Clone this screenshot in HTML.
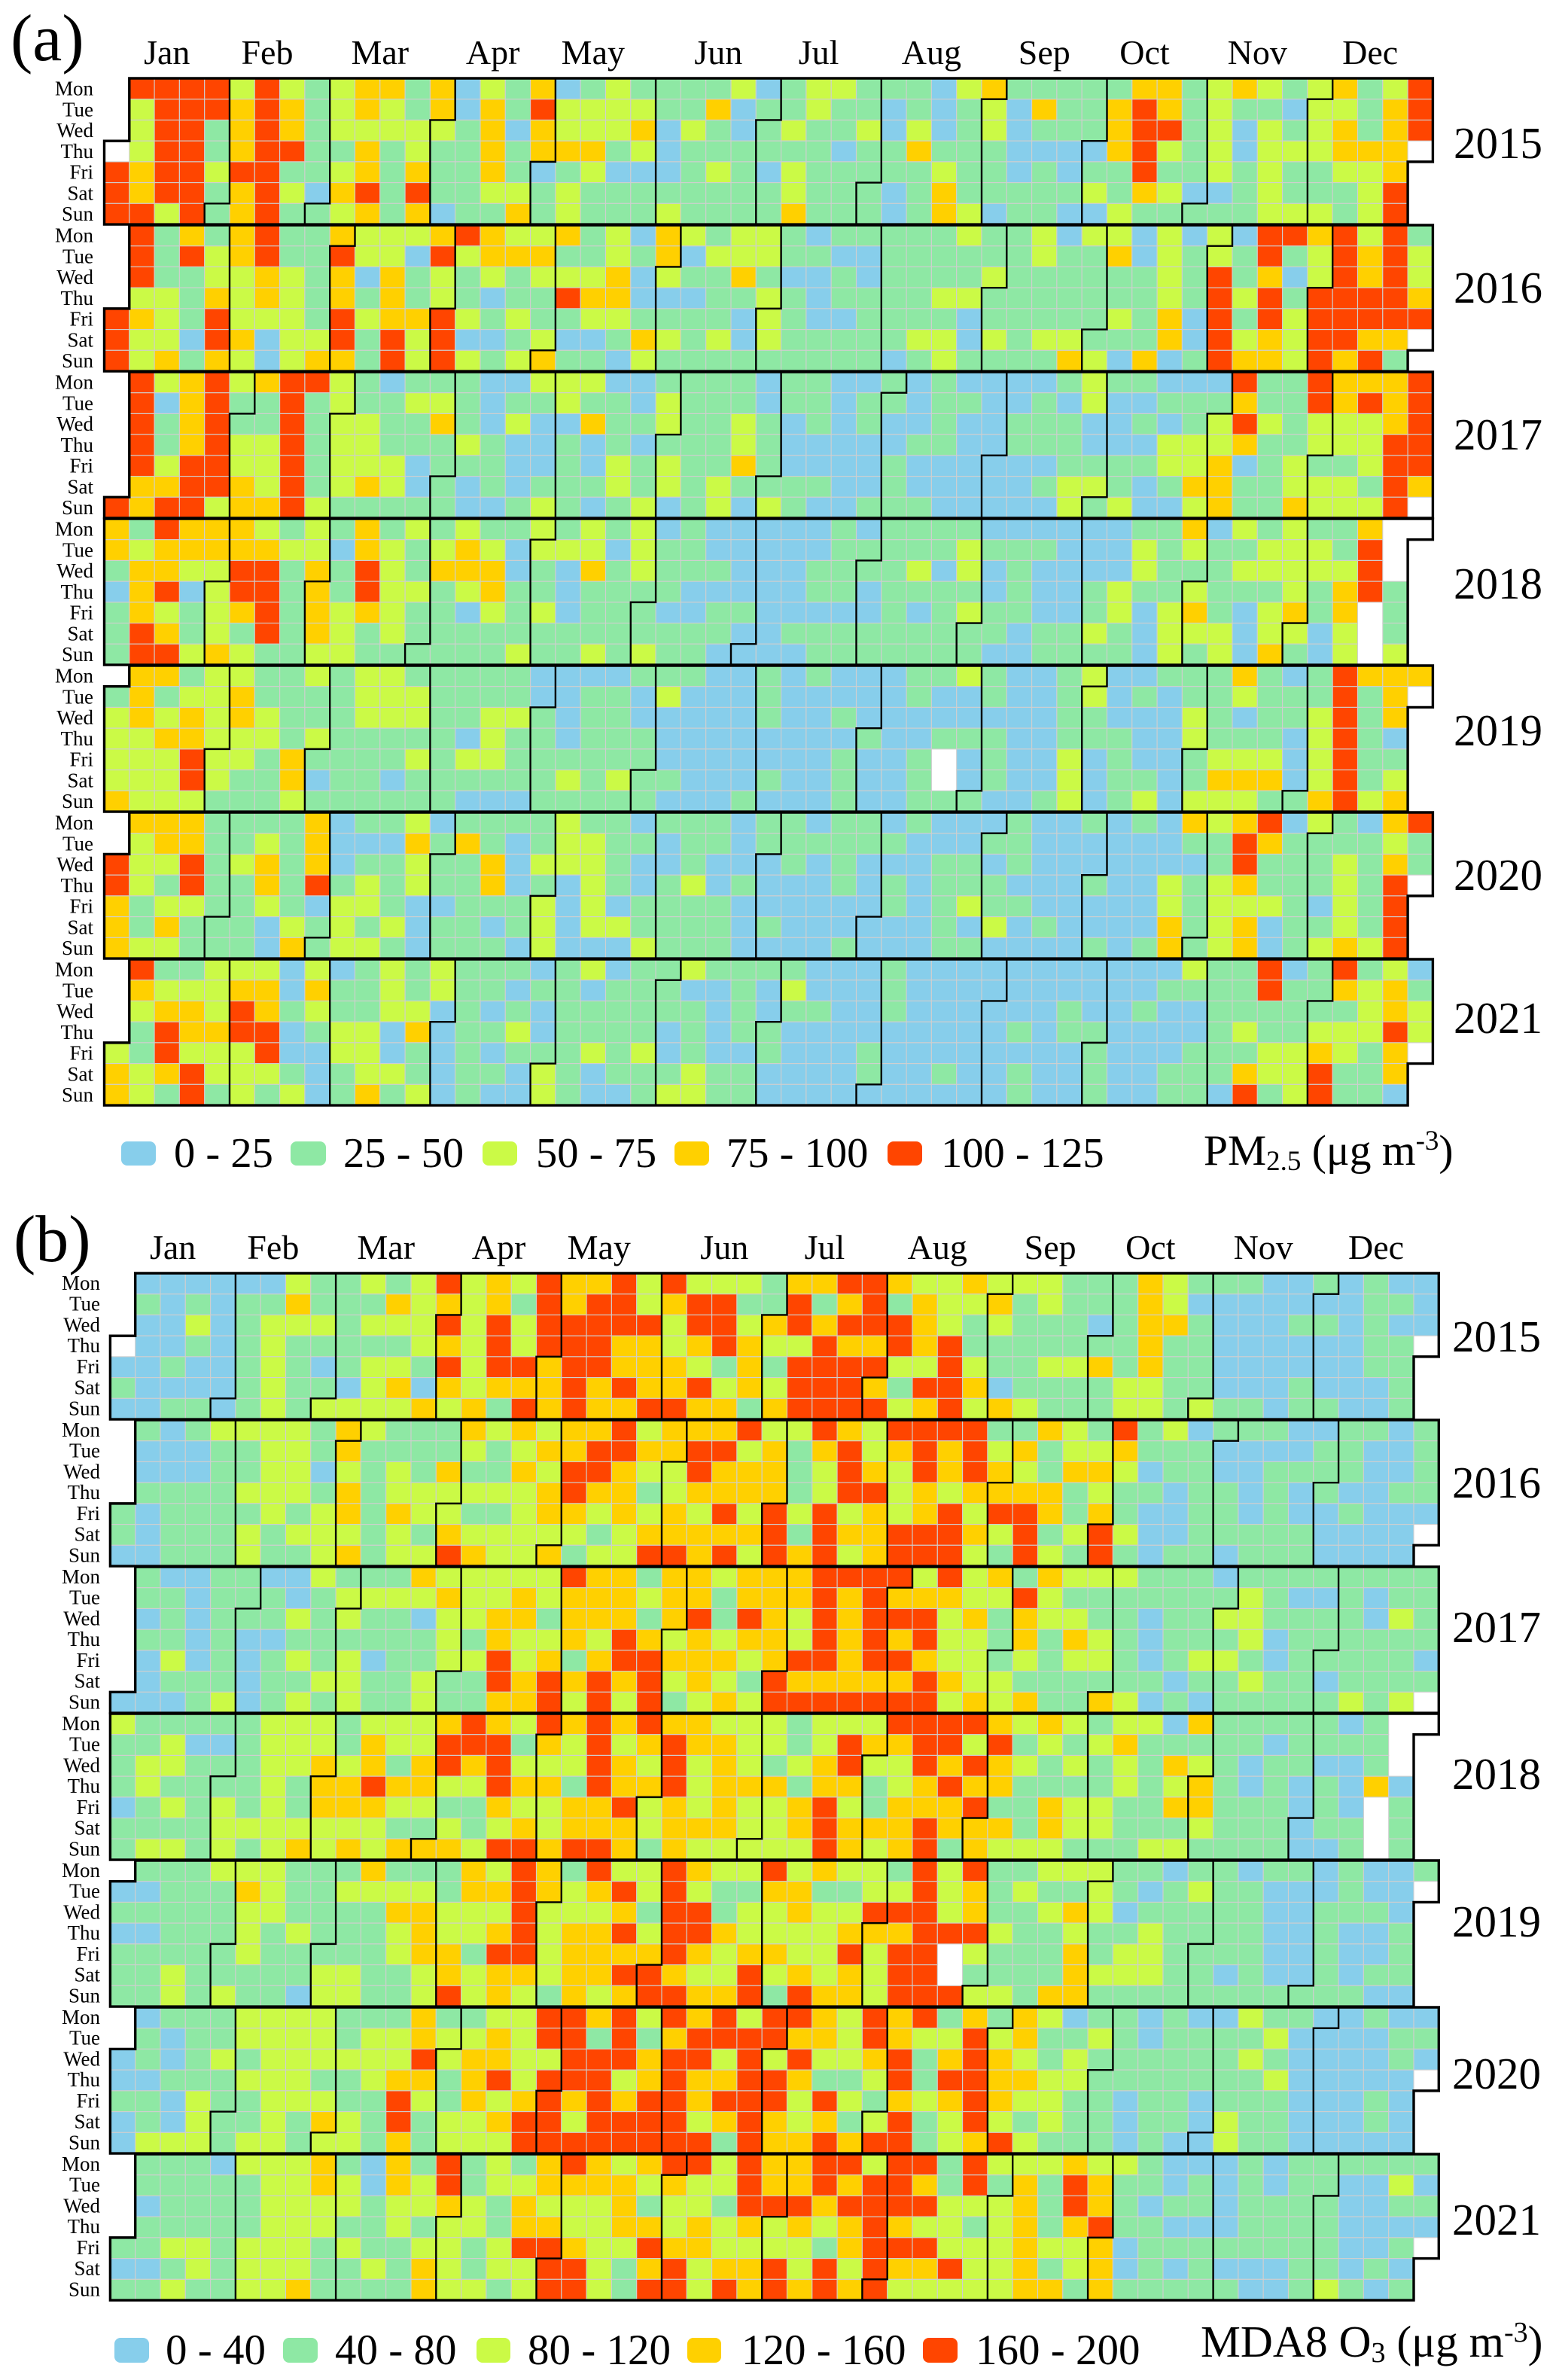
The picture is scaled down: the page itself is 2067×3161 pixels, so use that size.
<!DOCTYPE html>
<html lang="en">
<head>
<meta charset="utf-8">
<title>Calendar heatmaps of PM2.5 and MDA8 O3</title>
<style>
html,body{margin:0;padding:0;background:#fff;}
svg{display:block;position:absolute;left:0;top:0;}
text{font-family:"Liberation Serif",serif;fill:#000;}
</style>
</head>
<body>
<svg id="chart" xmlns="http://www.w3.org/2000/svg" width="2067" height="3161" viewBox="0 0 2067 3161">
<rect x="0" y="0" width="2067" height="3161" fill="#fff"/>
<g id="panel-a"></g>
<g id="panel-b"></g>

<text x="14" y="80" font-size="88">(a)</text>
<text x="18" y="1675" font-size="88">(b)</text>

<g font-size="59">
<text x="1931" y="210">2015</text>
<text x="1931" y="402">2016</text>
<text x="1931" y="597">2017</text>
<text x="1931" y="795">2018</text>
<text x="1931" y="990">2019</text>
<text x="1931" y="1182">2020</text>
<text x="1931" y="1372">2021</text>
</g>
<g font-size="59">
<text x="1929" y="1795">2015</text>
<text x="1929" y="1989">2016</text>
<text x="1929" y="2181">2017</text>
<text x="1929" y="2376">2018</text>
<text x="1929" y="2572">2019</text>
<text x="1929" y="2774">2020</text>
<text x="1929" y="2968">2021</text>
</g>

<g font-size="56.5">
<rect x="161" y="1516" width="46" height="32" rx="8" fill="#87CEEB"/>
<text x="231" y="1550">0 - 25</text>
<rect x="386" y="1516" width="47" height="32" rx="8" fill="#8EE8A4"/>
<text x="456" y="1550">25 - 50</text>
<rect x="641" y="1516" width="46" height="32" rx="8" fill="#CBFA46"/>
<text x="712" y="1550">50 - 75</text>
<rect x="896" y="1516" width="46" height="32" rx="8" fill="#FFD000"/>
<text x="965" y="1550">75 - 100</text>
<rect x="1179" y="1516" width="46" height="32" rx="8" fill="#FF4500"/>
<text x="1250" y="1550">100 - 125</text>
</g>
<text x="1599" y="1547" font-size="57.5">PM<tspan dy="7" font-size="37">2.5</tspan><tspan dy="-7"> (μg m</tspan><tspan dy="-20" font-size="37">-3</tspan><tspan dy="20">)</tspan></text>

<g font-size="57">
<rect x="152" y="3105" width="46" height="33" rx="8" fill="#87CEEB"/>
<text x="220" y="3140">0 - 40</text>
<rect x="376" y="3105" width="46" height="33" rx="8" fill="#8EE8A4"/>
<text x="445" y="3140">40 - 80</text>
<rect x="633" y="3105" width="45" height="33" rx="8" fill="#CBFA46"/>
<text x="701" y="3140">80 - 120</text>
<rect x="913" y="3105" width="45" height="33" rx="8" fill="#FFD000"/>
<text x="985" y="3140">120 - 160</text>
<rect x="1226" y="3105" width="46" height="33" rx="8" fill="#FF4500"/>
<text x="1296" y="3140">160 - 200</text>
</g>
<text x="1595" y="3130" font-size="59.5">MDA8 O<tspan dy="7" font-size="38">3</tspan><tspan dy="-7"> (μg m</tspan><tspan dy="-20" font-size="38">-3</tspan><tspan dy="20">)</tspan></text>
</svg>

<script>
const years = [2015,2016,2017,2018,2019,2020,2021];
const monthLabels = ["Jan","Feb","Mar","Apr","May","Jun","Jul","Aug","Sep","Oct","Nov","Dec"];
const monthLabelWeeks = [2.5,6.5,11,15.5,19.5,24.5,28.5,33,37.5,41.5,46,50.5];
const dayLabels = ["Mon","Tue","Wed","Thu","Fri","Sat","Sun"];
const binColors = ["#87CEEB","#8EE8A4","#CBFA46","#FFD000","#FF4500"];
/* Values: concentration bin index per weekday row and week column; 9 = no data */
const pm25_2015 = [
[9,4,4,4,4,2,4,2,1,2,3,3,1,3,0,2,1,3,0,1,2,1,1,1,1,2,0,1,2,2,1,1,1,0,2,3,1,1,1,1,1,3,3,1,2,3,2,1,2,3,1,2,4],
[9,2,4,4,4,3,4,3,1,2,3,2,1,3,0,3,1,4,2,2,2,2,1,1,3,0,1,1,2,1,1,0,1,0,1,2,0,3,1,1,3,4,3,1,2,1,1,0,2,2,1,3,4],
[9,2,4,4,1,3,4,3,1,2,2,2,2,2,1,3,0,3,2,2,2,3,0,2,1,0,1,2,1,1,2,0,2,0,1,2,0,1,1,1,3,4,4,1,2,0,2,1,2,3,1,3,4],
[9,2,4,4,1,3,4,4,1,1,3,1,2,1,1,3,1,3,3,3,1,2,0,1,1,1,1,1,1,0,1,1,3,1,1,1,0,0,0,0,3,4,2,1,2,0,2,2,2,3,3,3,9],
[4,3,4,4,2,4,4,1,1,2,3,1,3,1,1,3,1,0,1,2,0,0,0,1,2,1,0,2,1,1,1,1,1,2,1,1,0,1,0,1,1,4,1,1,2,1,2,1,1,2,2,3,9],
[4,3,4,4,1,3,4,2,0,3,4,1,4,1,1,2,2,1,2,1,1,1,1,1,1,1,1,2,1,1,1,0,1,3,1,1,1,1,1,2,1,3,2,0,0,1,2,1,1,1,2,4,9],
[4,4,2,4,1,3,4,1,1,2,3,1,3,0,1,1,3,1,2,1,1,1,2,1,1,1,1,3,1,1,1,0,1,3,2,0,1,1,0,0,2,1,1,1,1,1,2,2,2,1,2,4,9]];
const pm25_2016 = [
[9,4,1,3,1,3,4,1,1,3,2,2,2,3,4,3,2,2,3,1,2,0,3,2,1,2,2,1,0,1,1,1,1,1,2,1,1,2,0,2,2,0,2,0,2,0,4,4,3,4,2,4,1],
[9,4,1,4,2,3,4,1,1,4,2,2,0,4,2,3,3,3,1,1,2,1,3,0,2,2,2,1,1,0,0,1,1,1,1,1,1,2,1,1,3,0,2,1,2,1,4,1,2,4,3,4,2],
[9,4,1,1,2,2,3,2,1,3,0,3,1,2,1,2,1,2,2,2,3,0,2,1,1,3,1,0,0,1,0,1,1,1,1,2,1,1,1,1,1,1,2,1,4,1,3,0,2,4,3,4,2],
[9,2,2,1,3,2,3,2,1,3,1,3,1,2,1,0,1,1,4,3,3,0,0,0,1,1,2,1,0,1,1,1,1,2,2,1,1,1,1,1,1,1,2,1,4,2,4,1,4,4,4,4,3],
[4,3,2,1,4,2,2,2,1,4,2,3,3,4,2,1,2,1,1,2,2,1,1,1,1,0,2,1,0,0,1,1,1,1,0,1,1,1,1,1,2,1,3,0,4,1,4,2,4,4,4,4,4],
[4,2,2,0,4,3,0,2,2,4,1,4,2,4,0,0,1,2,0,0,1,3,2,1,2,0,2,1,1,1,1,1,2,2,0,2,1,2,2,1,1,1,3,0,4,2,3,2,4,4,3,3,9],
[4,2,3,1,3,2,0,2,3,3,1,4,2,4,2,1,2,3,1,1,0,2,1,1,1,1,1,1,1,1,1,0,1,2,1,1,1,1,3,2,0,3,0,1,4,3,3,2,4,3,4,1,9]];
const pm25_2017 = [
[9,4,2,3,4,2,3,4,4,2,1,0,1,1,1,0,0,2,2,2,0,0,1,1,1,1,0,1,1,0,0,1,0,1,0,0,0,0,1,2,1,1,0,0,0,4,1,1,4,3,3,3,4],
[9,4,0,3,4,1,1,4,1,2,1,1,2,2,1,0,1,1,2,1,1,0,2,1,1,1,0,1,1,0,1,1,0,1,1,0,0,1,0,2,0,0,1,1,1,3,1,1,4,3,4,3,4],
[9,4,1,3,4,1,1,4,1,2,2,1,1,3,1,0,2,0,0,3,1,1,2,1,1,2,1,0,1,0,1,0,0,1,0,0,1,1,1,0,0,1,0,1,2,4,2,1,2,2,2,3,4],
[9,4,1,3,4,2,2,4,1,2,2,1,1,1,2,1,0,0,1,0,1,0,1,1,1,2,1,0,0,0,0,0,1,1,0,0,1,1,1,0,0,0,2,2,2,3,1,1,2,2,2,4,4],
[9,4,2,4,4,2,2,4,1,2,2,2,0,1,1,1,0,0,1,0,2,1,2,1,1,3,1,0,0,0,0,1,0,0,0,0,0,0,1,1,1,1,2,2,3,0,1,2,1,1,2,4,4],
[9,3,3,4,4,3,2,4,1,2,3,2,0,1,0,1,0,1,1,1,2,1,2,1,2,1,1,1,1,0,0,1,0,0,0,0,0,1,2,2,1,0,1,3,3,1,1,2,2,2,1,4,3],
[4,3,4,4,2,3,3,4,2,1,1,1,1,1,0,0,1,2,1,0,1,2,0,1,2,0,2,1,0,0,1,1,1,0,0,0,0,0,2,1,2,0,0,2,3,1,1,3,2,2,2,4,9]];
const pm25_2018 = [
[3,1,4,3,3,3,2,1,2,1,3,1,2,1,2,1,1,2,1,2,1,2,0,1,0,0,0,0,0,1,0,1,1,1,1,0,0,0,0,0,0,1,1,3,0,2,1,2,1,1,3,9,9],
[3,2,3,3,3,3,3,2,2,0,3,2,1,2,3,2,0,2,2,2,0,2,1,1,0,0,0,0,0,1,1,1,1,1,2,1,1,1,0,0,0,2,1,2,1,1,2,2,2,1,4,9,9],
[1,3,3,2,2,4,4,1,3,1,4,2,1,3,3,3,0,1,0,3,1,2,1,1,1,0,0,0,1,1,1,1,2,0,2,0,1,0,0,0,0,2,1,1,1,2,2,2,2,2,4,9,9],
[0,3,4,0,2,4,4,1,3,1,4,2,2,1,2,3,1,1,0,1,1,1,1,0,0,0,0,0,1,1,0,1,1,1,1,0,1,0,0,1,2,1,1,2,1,1,1,2,1,3,4,1,9],
[1,3,2,1,2,3,4,1,3,2,3,2,1,1,0,2,1,2,0,1,1,1,0,0,1,1,0,0,0,0,0,1,0,1,2,1,1,0,0,1,2,0,2,3,1,0,2,3,1,3,9,1,9],
[1,4,3,1,2,1,4,1,3,2,1,2,1,1,1,1,1,1,1,1,1,1,1,1,1,0,0,1,1,1,1,1,1,1,1,1,0,1,1,2,1,0,2,2,2,0,2,2,0,2,9,1,9],
[1,4,4,2,3,2,1,1,2,2,1,1,1,1,1,1,2,1,1,2,1,2,1,1,0,0,0,0,1,1,1,1,1,1,1,0,0,1,1,1,1,0,2,1,2,0,3,1,0,2,9,2,9]];
const pm25_2019 = [
[9,3,3,1,2,2,1,1,2,1,2,2,1,1,1,1,1,0,0,0,0,1,1,1,0,0,1,0,1,0,0,0,1,1,2,1,0,0,1,2,0,0,1,1,1,3,1,0,1,4,3,3,3],
[1,3,1,2,2,3,1,1,1,1,2,2,2,1,1,1,1,0,0,1,1,0,2,0,0,0,1,0,0,0,0,0,1,0,0,1,0,0,1,2,0,1,0,1,1,2,1,1,1,4,1,3,9],
[2,3,2,3,2,3,2,1,1,1,2,2,2,1,1,2,2,1,0,1,1,0,0,0,0,0,1,0,0,1,0,0,0,0,0,0,0,0,1,1,0,0,0,2,1,0,1,1,2,4,1,3,9],
[2,2,3,3,2,2,2,1,2,1,1,1,1,1,0,2,1,1,0,1,1,1,0,0,0,0,0,0,0,0,1,0,0,1,1,1,0,0,1,1,1,0,0,2,1,1,1,0,2,4,1,0,9],
[2,2,2,4,2,2,1,3,1,1,1,1,2,1,2,2,1,1,1,1,1,1,0,0,0,0,0,0,0,1,0,0,1,9,0,1,0,0,2,0,1,0,0,1,2,2,2,0,2,4,1,1,9],
[2,2,2,4,2,1,1,3,0,1,1,0,1,1,1,1,1,1,2,1,2,1,1,0,0,0,1,0,0,1,0,0,1,9,0,1,0,0,2,0,1,1,0,1,3,3,3,0,2,4,1,2,9],
[3,2,2,2,1,1,1,2,1,1,1,1,1,1,0,0,0,1,1,1,1,1,0,0,0,1,0,0,0,1,0,0,1,1,1,0,0,1,2,0,1,2,0,2,2,2,1,1,3,4,2,3,9]];
const pm25_2020 = [
[9,3,3,3,1,1,1,1,3,0,1,1,2,0,1,1,1,1,2,1,1,0,1,1,1,0,1,1,0,1,1,0,1,0,0,0,1,0,0,1,0,1,0,3,2,3,4,0,2,1,0,3,4],
[9,2,3,3,1,1,2,1,3,0,0,0,3,1,3,1,0,1,2,2,1,1,0,1,1,0,1,1,1,1,1,1,0,0,0,1,1,0,0,0,0,0,0,1,1,4,3,1,1,1,1,2,1],
[4,2,2,4,1,2,3,1,3,0,1,1,2,1,1,3,0,2,2,2,1,0,0,1,0,0,0,1,0,1,0,0,0,1,1,0,1,0,0,0,0,0,0,0,1,4,1,1,1,2,1,3,1],
[4,2,1,4,1,1,3,1,4,1,2,1,2,1,1,3,0,1,0,2,1,0,1,2,0,1,0,0,0,1,0,1,0,1,1,1,0,0,0,1,0,0,2,1,2,3,1,1,1,2,1,4,9],
[3,1,2,2,1,1,2,1,0,2,2,1,0,0,1,1,1,2,0,2,0,1,1,1,1,0,0,0,0,0,0,1,0,1,2,1,1,0,0,0,0,0,2,1,2,2,2,1,0,2,1,4,9],
[3,1,3,1,1,1,0,2,1,2,1,2,0,1,1,0,1,2,0,2,2,1,1,1,1,0,1,0,0,0,0,0,0,1,0,2,0,1,0,0,0,0,3,1,2,3,0,1,1,2,1,4,9],
[3,2,2,1,1,1,0,3,1,2,2,1,0,1,1,1,0,2,0,0,0,2,1,1,1,0,0,0,0,1,0,0,0,1,1,0,0,0,0,1,0,1,3,1,2,3,0,1,2,3,2,4,9]];
const pm25_2021 = [
[9,4,1,1,2,2,2,0,2,0,1,2,1,2,1,1,1,0,1,2,0,1,1,2,1,1,1,1,0,0,0,1,0,0,0,0,0,0,0,0,0,0,0,2,1,1,4,0,1,4,1,2,0],
[9,3,2,2,2,3,3,0,3,1,1,2,1,2,1,1,0,1,1,0,1,1,1,0,0,1,0,2,0,0,0,1,0,0,0,0,0,0,0,0,0,0,1,1,1,1,4,1,1,3,2,3,1],
[9,2,3,3,2,4,3,1,2,1,1,2,2,0,1,0,1,0,1,1,1,1,1,1,0,1,0,1,1,0,0,1,0,0,0,0,0,0,1,0,0,1,0,0,1,1,1,1,1,1,2,3,2],
[9,1,4,3,3,4,4,0,1,2,2,0,3,0,1,1,2,0,1,1,1,1,0,1,0,1,1,0,0,0,0,0,0,0,0,0,1,0,1,1,0,0,0,0,1,2,1,1,2,2,2,4,2],
[2,1,4,2,2,2,4,0,0,2,2,0,1,0,1,0,1,1,1,2,1,2,0,1,0,0,1,0,0,0,1,0,0,0,0,0,0,0,0,1,0,0,0,1,1,1,2,2,3,2,1,3,9],
[3,2,3,4,2,2,2,1,0,1,2,2,1,0,1,1,0,2,1,0,1,1,1,2,1,1,0,0,0,0,1,0,0,1,0,0,1,0,0,1,0,0,1,1,1,3,2,2,4,1,1,3,9],
[3,2,1,4,1,2,1,2,0,1,3,1,2,0,1,0,0,2,1,0,0,1,2,2,1,1,0,0,0,0,0,0,0,0,0,0,1,0,0,1,0,0,1,1,0,4,1,2,4,1,1,0,9]];
const o3_2015 = [
[9,0,0,0,0,0,0,2,1,1,2,1,2,4,2,3,2,4,3,3,4,2,4,2,2,2,1,3,3,4,4,3,2,2,3,2,2,2,1,1,1,3,2,1,1,1,0,0,1,0,1,0,0],
[9,1,0,1,0,1,1,3,1,1,1,3,2,3,2,3,1,4,3,4,4,2,3,4,4,1,1,4,1,3,4,1,3,2,2,3,1,2,1,1,1,3,2,0,0,0,0,0,0,0,1,1,0],
[9,0,0,2,0,1,2,2,2,1,2,2,2,4,2,4,2,4,4,4,4,4,2,4,4,2,3,4,3,4,4,4,3,2,1,2,1,1,1,0,1,3,3,1,0,0,0,1,1,0,1,0,0],
[9,0,0,1,0,1,2,1,1,1,1,1,2,3,2,4,2,4,4,4,3,3,2,3,4,3,2,2,4,3,3,4,3,4,1,1,1,1,1,1,1,3,1,1,0,0,0,0,0,0,1,1,9],
[0,0,1,0,0,1,2,1,0,1,2,2,1,4,2,4,4,3,4,4,3,3,3,2,1,3,1,4,4,4,4,2,2,4,2,1,1,2,2,3,1,3,1,1,0,0,0,0,0,0,1,1,9],
[1,0,0,0,0,1,2,1,1,0,2,3,0,3,2,3,3,3,4,3,4,3,3,4,2,3,2,4,4,4,3,1,4,4,3,0,1,1,1,1,2,2,1,1,0,0,0,1,0,0,0,1,9],
[0,0,1,1,0,1,2,1,2,2,2,2,3,2,3,1,4,3,4,3,3,4,4,3,3,1,3,4,4,4,4,2,3,4,2,3,2,1,1,1,2,2,1,2,1,1,0,1,1,0,0,1,9]];
const o3_2016 = [
[9,1,0,1,2,2,2,2,1,3,2,1,1,1,3,2,3,2,3,3,4,2,3,3,3,4,2,2,4,3,2,4,4,4,4,1,1,3,2,1,4,1,2,0,1,1,1,0,0,1,1,0,1],
[9,0,0,0,1,1,2,2,1,3,1,1,1,1,2,1,2,3,3,4,4,3,3,4,4,2,3,1,3,4,2,3,4,3,4,2,3,1,2,2,3,1,1,1,0,0,0,0,1,1,0,0,1],
[9,0,0,0,1,1,2,2,0,2,1,2,1,3,1,1,3,2,4,4,3,2,2,4,3,3,3,1,2,4,3,2,4,3,4,3,2,1,3,3,2,0,1,1,0,0,1,1,1,1,0,0,1],
[9,1,1,1,1,2,2,2,1,3,1,2,2,2,2,2,2,3,4,3,3,1,2,3,3,3,3,1,2,4,4,2,3,2,3,3,3,3,1,2,1,1,0,1,1,0,1,0,1,0,0,1,1],
[1,0,1,1,1,1,2,1,2,3,1,3,2,2,1,1,2,3,3,2,3,2,3,2,4,2,4,2,4,2,3,2,3,4,2,4,4,3,1,3,1,0,0,1,1,0,1,0,0,1,0,0,0],
[1,0,1,1,1,2,1,2,2,2,1,2,1,3,2,2,2,2,2,1,2,3,3,3,3,3,4,1,4,3,3,4,4,4,3,2,4,1,2,4,2,0,0,1,1,1,1,1,0,0,0,0,9],
[0,0,1,1,1,2,1,1,2,3,1,2,2,4,3,2,2,3,1,2,2,4,4,3,4,2,4,3,4,2,3,4,4,4,2,1,4,2,1,4,1,0,1,1,0,1,1,1,0,0,0,0,9]];
const o3_2017 = [
[9,1,0,0,1,1,0,0,2,1,1,1,3,2,2,2,2,2,4,3,3,1,3,3,2,3,3,3,4,4,4,4,2,4,2,3,1,3,2,2,2,1,1,1,0,1,1,1,1,1,1,1,1],
[9,1,1,0,1,1,1,0,1,2,2,2,2,3,2,2,3,2,3,3,3,2,3,3,1,3,3,3,4,3,4,3,3,3,2,2,4,2,1,1,1,1,1,1,1,2,1,0,0,1,0,1,1],
[9,0,1,0,1,1,1,2,1,2,1,1,0,2,2,3,3,1,3,3,3,1,3,4,1,4,3,2,4,3,4,4,4,2,3,1,3,2,2,1,1,0,1,1,2,2,1,1,1,1,0,2,1],
[9,1,1,0,1,0,0,1,1,1,1,1,1,2,1,3,2,2,3,2,4,3,2,3,2,3,3,2,4,3,4,3,4,2,2,1,3,1,3,2,1,0,1,1,1,2,0,1,1,1,1,1,1],
[9,0,2,0,1,0,1,2,1,2,0,1,1,2,2,4,2,3,1,3,4,4,3,3,3,2,3,4,4,3,4,4,3,2,2,1,2,1,2,2,1,0,1,2,2,1,0,1,1,1,1,1,0],
[9,0,1,1,1,0,1,1,2,2,1,1,2,1,1,4,3,4,3,4,3,4,2,3,2,1,4,3,3,3,3,3,4,3,2,2,1,1,1,1,1,1,0,1,1,2,1,1,0,1,1,1,1],
[0,0,0,1,2,0,1,2,1,2,1,1,2,1,1,3,3,4,2,4,2,4,1,2,3,2,4,4,4,4,4,4,4,2,3,2,3,1,1,3,2,0,1,0,1,1,1,1,1,2,1,2,9]];
const o3_2018 = [
[2,1,1,1,1,1,2,2,2,1,2,2,2,3,4,3,2,4,3,4,3,4,3,3,2,2,2,1,2,2,2,4,4,4,4,3,2,3,2,1,2,2,0,3,1,1,1,1,1,0,1,9,9],
[1,1,2,0,0,1,2,2,2,1,3,2,2,4,4,4,1,3,2,4,2,3,4,3,3,2,2,1,2,4,3,3,4,4,2,4,1,2,1,2,3,1,1,1,1,1,0,1,1,1,1,9,9],
[1,2,2,1,1,1,2,2,3,2,3,1,3,4,3,4,2,2,2,4,3,2,4,2,3,2,1,2,3,4,2,2,4,3,4,3,2,1,2,1,2,1,3,2,1,0,1,1,0,0,1,9,9],
[1,2,1,1,1,1,2,1,3,3,4,3,3,2,2,4,3,3,1,4,3,3,4,2,3,3,3,1,3,3,1,2,3,4,3,3,1,1,1,1,2,1,2,3,1,0,1,0,1,0,3,0,9],
[0,1,2,1,2,1,2,1,3,3,3,2,2,1,1,3,2,2,3,3,4,2,3,2,3,2,2,3,4,2,1,3,3,3,4,1,1,3,2,2,1,1,3,3,1,1,1,0,1,0,9,1,9],
[1,1,1,1,2,2,2,2,2,2,2,1,1,2,1,2,3,2,3,3,3,2,3,3,3,2,2,3,4,3,3,3,4,3,3,3,1,3,2,2,1,1,1,2,1,1,1,0,1,1,9,1,9],
[1,2,2,1,2,1,2,3,2,3,2,3,3,3,2,4,4,3,4,4,3,1,3,2,2,2,2,2,4,3,2,3,4,1,3,2,2,2,1,1,1,2,2,1,1,1,1,0,0,1,9,1,9]];
const o3_2019 = [
[9,1,1,1,2,2,2,1,1,1,3,1,1,1,3,2,4,3,1,4,2,2,4,3,2,2,4,2,3,2,2,1,4,2,4,1,1,2,2,2,1,1,0,1,1,0,1,1,0,1,0,0,1],
[0,0,1,1,1,3,2,1,1,2,2,2,2,1,3,3,4,3,2,3,4,2,4,2,1,1,3,3,1,1,2,2,4,2,3,1,2,1,1,2,1,0,1,2,1,1,0,0,0,1,0,0,9],
[1,1,1,1,1,2,2,1,1,1,1,3,3,2,2,2,4,2,2,2,3,1,4,4,1,2,2,3,2,2,4,4,4,2,3,1,1,2,3,2,0,1,1,1,1,1,0,0,1,1,1,0,9],
[0,0,1,1,1,2,1,2,1,1,1,2,3,2,2,3,4,2,3,3,4,2,4,4,3,2,2,2,2,3,3,3,4,4,4,2,1,1,2,1,1,2,1,1,1,1,0,0,1,0,0,1,9],
[1,1,1,1,1,2,1,1,1,1,1,2,3,3,1,4,4,2,3,3,3,3,4,3,2,3,3,2,2,4,2,4,4,9,2,1,1,1,3,1,2,2,1,1,1,1,0,0,1,0,0,1,9],
[1,1,2,1,1,1,1,1,2,2,1,1,2,3,2,3,3,2,3,3,4,4,3,2,2,4,2,3,2,3,2,4,4,9,1,1,1,1,3,2,2,2,1,1,0,1,0,0,1,0,1,1,9],
[1,1,2,1,2,1,1,0,2,2,1,1,2,4,2,3,2,1,3,2,3,4,4,3,3,4,1,4,3,3,2,4,4,4,2,2,1,3,3,1,1,1,1,1,1,1,1,1,1,1,0,0,9]];
const o3_2020 = [
[9,0,1,1,1,2,2,2,2,1,1,1,3,1,1,2,2,4,4,3,4,2,4,3,4,2,4,4,3,2,4,3,4,1,3,1,3,2,0,1,1,0,1,0,0,2,1,1,0,0,1,0,0],
[9,1,0,1,1,2,2,2,2,1,2,2,3,2,2,3,2,4,4,1,4,1,3,4,4,4,4,3,3,2,4,3,2,2,4,2,3,1,1,2,1,0,1,1,1,1,2,0,0,0,0,1,1],
[0,1,0,1,2,1,2,2,2,2,2,2,4,2,3,3,2,2,4,4,4,3,4,4,2,4,2,4,2,2,3,4,1,3,4,3,2,1,2,1,1,1,1,1,1,2,1,0,0,0,0,1,0],
[0,0,1,1,1,2,2,2,1,1,2,3,3,1,3,4,2,4,4,4,2,3,4,3,3,4,4,3,1,1,2,4,1,4,4,3,3,2,2,1,1,1,1,1,1,1,2,0,0,0,0,0,9],
[1,1,0,2,1,1,2,2,2,1,1,4,2,1,3,2,3,4,3,4,3,4,4,3,4,4,4,2,4,2,1,3,2,3,4,3,2,2,1,1,0,1,1,0,1,1,1,0,0,0,1,0,9],
[0,1,0,2,1,1,2,1,3,2,1,4,1,2,2,3,4,4,2,4,4,4,4,2,3,4,3,2,3,1,2,4,1,2,4,2,1,2,1,1,0,1,1,0,2,1,1,0,0,0,1,0,9],
[0,2,2,2,1,2,2,1,2,2,1,3,1,2,2,2,4,4,4,4,4,4,4,4,1,4,3,3,4,3,4,4,1,2,3,4,2,1,1,1,0,1,0,0,2,1,1,0,0,0,0,0,9]];
const o3_2021 = [
[9,1,1,1,0,2,2,2,3,1,0,3,1,4,1,2,1,3,4,3,2,3,4,4,2,4,3,3,4,4,2,4,4,1,4,2,2,2,3,2,2,1,0,0,0,1,0,1,1,1,1,1,1],
[9,1,1,1,1,1,2,2,3,2,0,3,2,4,1,2,2,3,3,3,3,2,3,2,2,4,3,3,4,3,4,4,3,1,4,1,3,1,4,3,1,1,0,1,0,1,0,1,1,0,0,2,0],
[9,0,1,1,1,1,2,2,2,2,1,2,2,3,2,1,3,2,2,2,3,1,2,2,1,4,4,4,3,4,4,4,4,2,2,2,3,1,4,3,1,0,1,1,0,1,1,1,1,0,0,1,1],
[9,1,1,1,1,1,2,2,2,1,1,2,1,2,2,1,3,3,2,2,3,3,2,3,2,3,2,3,2,3,4,3,2,2,1,2,3,1,3,4,1,1,0,0,0,1,1,1,1,0,0,0,0],
[1,1,2,2,1,2,2,2,1,2,1,1,2,2,1,2,4,4,3,2,2,4,3,3,2,2,2,2,1,3,4,4,4,2,2,2,3,2,2,3,0,1,1,1,1,1,1,1,1,0,0,1,9],
[0,0,1,2,1,2,2,2,1,1,2,1,3,2,1,2,2,4,4,2,1,3,4,2,3,3,4,2,4,2,4,3,3,4,2,2,3,1,2,3,0,1,0,1,0,0,0,1,1,0,1,0,9],
[1,1,2,1,1,2,2,3,1,1,1,1,3,2,2,1,2,4,4,2,1,4,4,2,4,3,4,3,4,3,4,2,2,2,2,2,3,3,1,3,1,1,1,1,1,0,0,1,2,1,0,1,9]];

const pm25Years = [pm25_2015,pm25_2016,pm25_2017,pm25_2018,pm25_2019,pm25_2020,pm25_2021];
const o3Years = [o3_2015,o3_2016,o3_2017,o3_2018,o3_2019,o3_2020,o3_2021];

const SVGNS = "http://www.w3.org/2000/svg";
const cellW = 33.3, rowH = 27.72, yearPitch = 195;

function dayIndex(year, col, row){
  const first = new Date(Date.UTC(year,0,1));
  const d0 = (first.getUTCDay()+6)%7;
  const idx = col*7 + row - d0;
  const len = (Date.UTC(year+1,0,1)-Date.UTC(year,0,1))/86400000;
  return (idx>=0 && idx<len) ? idx : -1;
}
function monthOf(year, col, row){
  if(row<0 || row>6 || col<0 || col>52) return -1;
  const idx = dayIndex(year,col,row);
  if(idx<0) return -1;
  return new Date(Date.UTC(year,0,1+idx)).getUTCMonth();
}

function drawPanel(groupId, x0, y0, yearsData, dayLabelX, dayBase, monthBase){
  const g = document.getElementById(groupId);
  const xScale = function(week){ return x0 + week*cellW; };
  const yScale = function(yi, row){ return y0 + yi*yearPitch + row*rowH; };

  monthLabels.forEach(function(m,i){
    const t = document.createElementNS(SVGNS,"text");
    t.setAttribute("x", xScale(monthLabelWeeks[i]));
    t.setAttribute("y", monthBase);
    t.setAttribute("text-anchor","middle");
    t.setAttribute("font-size","46");
    
    
    t.textContent = m;
    g.appendChild(t);
  });

  years.forEach(function(year,yi){
    const rows = yearsData[yi];
    const yg = document.createElementNS(SVGNS,"g");
    
    
    g.appendChild(yg);

    dayLabels.forEach(function(d,r){
      const t = document.createElementNS(SVGNS,"text");
      t.setAttribute("x", dayLabelX);
      t.setAttribute("y", yScale(yi,r)+dayBase);
      t.setAttribute("text-anchor","end");
      t.setAttribute("font-size","27");
      
      
      t.textContent = d;
      yg.appendChild(t);
    });

    rows.forEach(function(values,r){
      values.forEach(function(v,c){
        if(dayIndex(year,c,r)<0 || !binColors[v]) return;
        const cell = document.createElementNS(SVGNS,"rect");
        cell.setAttribute("x", xScale(c));
        cell.setAttribute("y", yScale(yi,r));
        cell.setAttribute("width", cellW);
        cell.setAttribute("height", rowH);
        cell.setAttribute("fill", binColors[v]);
        cell.setAttribute("stroke", "#cfcfcf");
        cell.setAttribute("stroke-width", "1.1");
        
        
        yg.appendChild(cell);
      });
    });

    let inner = "", outer = "";
    const seg = function(x1,y1,x2,y2){ return "M"+x1.toFixed(2)+" "+y1.toFixed(2)+"L"+x2.toFixed(2)+" "+y2.toFixed(2); };
    for(let c=0;c<53;c++){
      for(let r=0;r<7;r++){
        const m = monthOf(year,c,r);
        if(m<0) continue;
        const L = xScale(c), R = xScale(c+1), T = yScale(yi,r), B = yScale(yi,r+1);
        const right = monthOf(year,c+1,r), below = monthOf(year,c,r+1);
        const left = monthOf(year,c-1,r), above = monthOf(year,c,r-1);
        if(right<0) outer += seg(R,T,R,B); else if(right!==m) inner += seg(R,T,R,B);
        if(below<0) outer += seg(L,B,R,B); else if(below!==m) inner += seg(L,B,R,B);
        if(left<0) outer += seg(L,T,L,B);
        if(above<0) outer += seg(L,T,R,T);
      }
    }
    const monthPath = document.createElementNS(SVGNS,"path");
    monthPath.setAttribute("d", inner);
    monthPath.setAttribute("fill","none");
    monthPath.setAttribute("stroke","#000");
    monthPath.setAttribute("stroke-width","2.4");
    monthPath.setAttribute("stroke-linecap","square");
    
    
    yg.appendChild(monthPath);
    const yearPath = document.createElementNS(SVGNS,"path");
    yearPath.setAttribute("d", outer);
    yearPath.setAttribute("fill","none");
    yearPath.setAttribute("stroke","#000");
    yearPath.setAttribute("stroke-width","3.4");
    yearPath.setAttribute("stroke-linecap","square");
    
    
    yg.appendChild(yearPath);
  });
}

drawPanel("panel-a",138.5,104,pm25Years,124,22.7,85);
drawPanel("panel-b",146.4,1691,o3Years,133,22,1672);
</script>
</body>
</html>
